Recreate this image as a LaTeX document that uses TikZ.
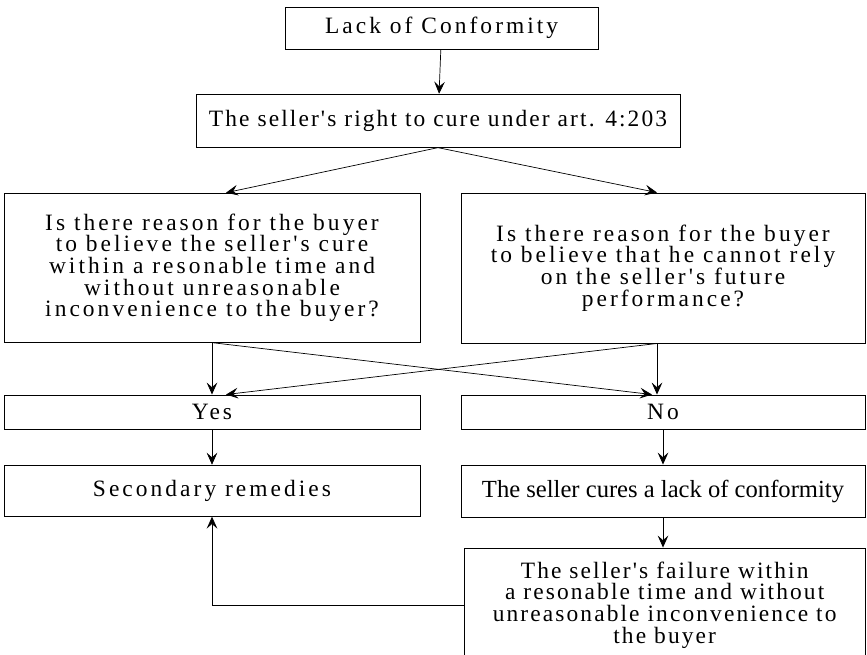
\documentclass[tikz,border=0pt]{standalone}
\usepackage{fontspec}
\usetikzlibrary{arrows.meta}
\setmainfont{Liberation Serif}
\newfontfamily\widefont[LetterSpace=13]{Liberation Serif}
\newfontfamily\midfont[LetterSpace=9]{Liberation Serif}

\begin{document}
\begin{tikzpicture}[auto, >={Stealth[length=3.6mm,width=3.2mm,inset=1.4mm]}, line width=0.6pt,
		box/.style={draw, rectangle, align=center, inner sep=0pt, line width=0.8pt,
			font=\widefont\fontsize{20}{18.5}\selectfont}]
				\useasboundingbox (0,0) rectangle (26.01,-19.62);
				\node[box, minimum width=9.39cm, minimum height=1.26cm] (lack) at (13.25,-0.84) {Lack of Conformity};
				\node[box, minimum width=14.52cm, minimum height=1.59cm, font=\midfont\fontsize{20}{18.5}\selectfont] (cure) at (13.14,-3.62) {The seller's right to cure under art. 4:203};
				\node[box, minimum width=12.48cm, minimum height=4.47cm] (qa) at (6.36,-8.03)
					{Is there reason for the buyer\\to believe the seller's cure\\within a resonable time and\\without unreasonable\\inconvenience to the buyer?};
				\node[box, minimum width=12.12cm, minimum height=4.5cm] (qb) at (19.89,-8.04)
					{Is there reason for the buyer\\to believe that he cannot rely\\on the seller's future\\performance?};
				\node[box, minimum width=12.48cm, minimum height=1.02cm] (yes) at (6.36,-12.36) {Yes};
				\node[box, minimum width=12.12cm, minimum height=1.02cm] (no) at (19.89,-12.36) {No};
				\node[box, minimum width=12.48cm, minimum height=1.53cm] (sec) at (6.36,-14.72) {Secondary remedies};
				\node[box, minimum width=12.12cm, minimum height=1.56cm, font=\fontsize{21}{22}\selectfont] (cures) at (19.89,-14.73) {The seller cures a lack of conformity};
				\node[box, minimum width=12.03cm, minimum height=3.42cm, font=\midfont\fontsize{20}{18.5}\selectfont] (fail) at (19.94,-18.15)
					{The seller's failure within\\a resonable time and without\\unreasonable inconvenience to\\the buyer};
				\draw[->] (lack) to (cure);
				\draw[->] (cure.south) to ([xshift=0.42cm]qa.north);
				\draw[->] (cure.south) to ([xshift=-0.18cm]qb.north);
				\draw[->] (qa.south) to (yes.north);
				\draw[->] (qa.south) to ([xshift=-0.33cm]no.north);
				\draw[->] ([xshift=-0.18cm]qb.south) to ([xshift=0.42cm]yes.north);
				\draw[->] ([xshift=-0.18cm]qb.south) to ([xshift=-0.18cm]no.north);
				\draw[->] (yes) to (sec);
				\draw[->] (no) to (cures);
				\draw[->] (cures) to (cures |- fail.north);
				\draw[->] (fail.west) -| (sec.south);
			\end{tikzpicture}
\end{document}
